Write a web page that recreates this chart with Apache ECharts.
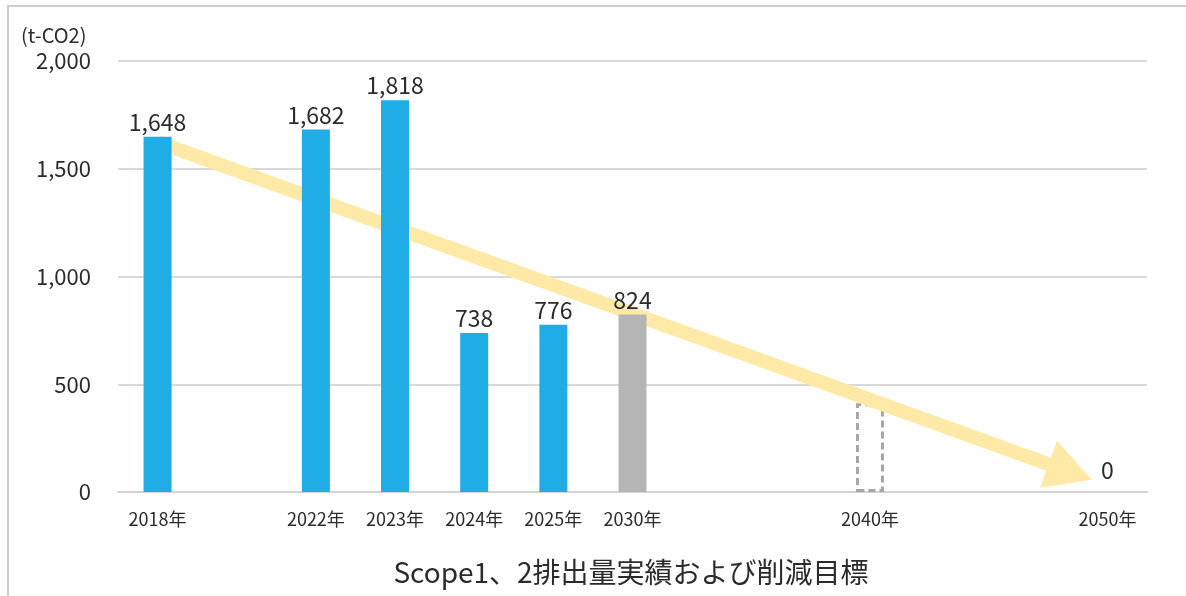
<!DOCTYPE html>
<html>
<head>
<meta charset="utf-8">
<script src="https://cdn.jsdelivr.net/npm/echarts@6/dist/echarts.min.js"></script>
<style>
  html, body { margin: 0; padding: 0; background: #fff; }
  #frame { position: absolute; left: 7px; top: 5px; width: 1179px; height: 591px;
           border-top: 2px solid #CFCFCF; border-left: 2px solid #CFCFCF; box-sizing: border-box; }
  #chart { position: absolute; left: 0; top: 0; width: 1186px; height: 596px; }
</style>
</head>
<body>
<div id="frame"></div>
<div id="chart"></div>
<script>
// ---- data ----
const slotLabels = ['2018年', '', '2022年', '2023年', '2024年', '2025年', '2030年', '', '', '2040年', '', '', '2050年'];
const actualValues = [1648, null, 1682, 1818, 738, 776, null, null, null, null, null, null, null];
const targetValues = [null, null, null, null, null, null, 824, null, null, null, null, null, 0];
const plannedValues = [null, null, null, null, null, null, null, null, null, 412, null, null, null];
const yTicks = [0, 500, 1000, 1500, 2000];
const unitLabel = '(t-CO2)';
const chartTitle = 'Scope1、2排出量実績および削減目標';
// trend arrow: [slot position, value] start and end
const arrowStart = [0, 1624];
const arrowEnd = [11.53, 93];

const FONT = '"Noto Sans CJK JP", "Noto Sans", sans-serif';
const TXT = '#2b2b2b';
const fmt = v => Number(v).toLocaleString('en-US');
const toData = arr => arr.map(v => (v === null ? '-' : v));
const targetData = toData(targetValues).map(v => (v === 0 ? { value: 0, label: { distance: 10 } } : v));

const chart = echarts.init(document.getElementById('chart'), null, { renderer: 'canvas' });
chart.setOption({
  animation: false,
  backgroundColor: 'transparent',
  textStyle: { fontFamily: FONT },
  title: [
    { text: unitLabel, left: 16, top: 20,
      textStyle: { fontFamily: FONT, fontSize: 20, fontWeight: 'normal', color: TXT } },
    { text: chartTitle, left: 626, top: 553, textAlign: 'center',
      textStyle: { fontFamily: FONT, fontSize: 28, fontWeight: 'normal', color: TXT } }
  ],
  grid: { left: 118, right: 39, top: 61, bottom: 104, containLabel: false },
  xAxis: [
    {
      type: 'category',
      data: slotLabels.map((l, i) => 's' + i),
      axisLine: { lineStyle: { color: '#D4D4D4', width: 2 } },
      axisTick: { show: false },
      axisLabel: {
        interval: 0, margin: 18, fontSize: 18, color: TXT, fontFamily: FONT,
        formatter: (v, i) => slotLabels[i]
      }
    },
    { type: 'value', min: -0.5, max: 12.5, show: false }
  ],
  yAxis: {
    type: 'value', min: yTicks[0], max: yTicks[yTicks.length - 1], interval: 500,
    axisLine: { show: false }, axisTick: { show: false },
    axisLabel: { margin: 27, fontSize: 22, color: TXT, fontFamily: FONT, formatter: v => fmt(v) },
    splitLine: { lineStyle: { color: '#D9D9D9', width: 2 } }
  },
  series: [
    {
      name: 'arrow', type: 'line', xAxisIndex: 1, z: 1,
      data: [arrowStart, arrowEnd],
      symbol: 'none', lineStyle: { opacity: 0 }, silent: true,
      markLine: {
        silent: true, z: 1,
        symbol: ['none', 'triangle'], symbolSize: [50, 46],
        label: { show: false },
        lineStyle: { color: '#FFE9A6', width: 14, type: 'solid', opacity: 1 },
        itemStyle: { color: '#FFE9A6' },
        emphasis: { disabled: true },
        data: [[{ coord: arrowStart }, { coord: arrowEnd }]]
      }
    },
    {
      name: 'planned', type: 'bar', z: 0, barWidth: 28, barGap: '-100%',
      data: toData(plannedValues),
      itemStyle: { color: 'rgba(0,0,0,0)', borderColor: '#A6A6A6', borderWidth: 3, borderType: [7, 4] },
      label: { show: false }
    },
    {
      name: 'actual', type: 'bar', z: 3, barWidth: 28, barGap: '-100%',
      data: toData(actualValues),
      itemStyle: { color: '#20ADE5' },
      label: { show: true, position: 'top', distance: 3, fontSize: 23, color: TXT, fontFamily: FONT,
               formatter: p => fmt(p.value) }
    },
    {
      name: 'target', type: 'bar', z: 3, barWidth: 28, barGap: '-100%',
      data: targetData,
      itemStyle: { color: '#B5B5B5' },
      label: { show: true, position: 'top', distance: 3, fontSize: 23, color: TXT, fontFamily: FONT,
               formatter: p => fmt(p.value) }
    }
  ]
});
</script>
</body>
</html>
